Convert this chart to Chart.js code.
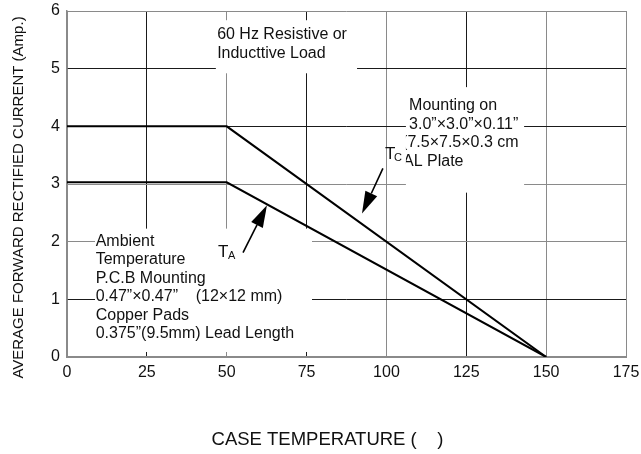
<!DOCTYPE html>
<html>
<head>
<meta charset="utf-8">
<script src="https://cdn.jsdelivr.net/npm/chart.js@4/dist/chart.umd.min.js"></script>
<style>
  html, body { margin: 0; padding: 0; background: #fff; }
  #wrap { width: 641px; height: 454px; }
</style>
</head>
<body>
<div id="wrap"><canvas id="myCanvas" width="641" height="454"></canvas></div>
<script>
// case temperature (deg C) and derating curves
const tempC = [0, 50, 150];
const currentTC = [4, 4, 0];
const currentTA = [3.03, 3.03, 0];
const xTicks = [0, 25, 50, 75, 100, 125, 150, 175];
const yTicks = [0, 1, 2, 3, 4, 5, 6];

const FONT = "'Liberation Sans', Arial, sans-serif";

// text blocks placed in data units, with white boxes behind them
const boxes = [
    { x0: 46.6, x1: 90.8, y0: 5.84, y1: 4.92 },
    { x0: 106.1, x1: 143.1, y0: 4.68, y1: 2.85, clip: true },
    { x0: 8.77, x1: 76.7, y0: 2.226, y1: 0.087 }
];
const notes = [
    { box: 0, x: 47.0, y: 5.513, dy: 0.322, lines: ['60 Hz Resistive or', 'Inducttive Load'] },
    { box: 1, x: 107.1, y: 4.278, dy: 0.322, lines: ['Mounting on', '3.0\u201d\u00d73.0\u201d\u00d70.11\u201d'] },
    { box: 1, x: 104.9, y: 3.635, dy: 0.322, lines: ['(7.5\u00d77.5\u00d70.3 cm'] },
    { box: 1, x: 105.2, y: 3.31, dy: 0.322, lines: ['AL Plate'] },
    { box: 2, x: 8.98, y: 1.93, dy: 0.32, lines: ['Ambient', 'Temperature', 'P.C.B Mounting',
        '0.47\u201d\u00d70.47\u201d    (12\u00d712 mm)', 'Copper Pads', '0.375\u201d(9.5mm) Lead Length'] }
];

function drawArrow(ctx, x1, y1, x2, y2) {
    var ang = Math.atan2(y2 - y1, x2 - x1);
    var len = 22, hw = 6.5;
    var bx = x2 - len * Math.cos(ang), by = y2 - len * Math.sin(ang);
    ctx.beginPath();
    ctx.moveTo(x1, y1);
    ctx.lineTo(bx, by);
    ctx.lineWidth = 1.6;
    ctx.strokeStyle = '#000';
    ctx.stroke();
    ctx.beginPath();
    ctx.moveTo(x2, y2);
    ctx.lineTo(bx + hw * Math.sin(ang), by - hw * Math.cos(ang));
    ctx.lineTo(bx - hw * Math.sin(ang), by + hw * Math.cos(ang));
    ctx.closePath();
    ctx.fillStyle = '#000';
    ctx.fill();
}

const notePlugin = {
    id: 'notes',
    beforeDatasetsDraw(chart) {
        const ctx = chart.ctx, sx = chart.scales.x, sy = chart.scales.y;
        ctx.save();
        boxes.forEach(function (b) {
            ctx.fillStyle = '#fff';
            var l = sx.getPixelForValue(b.x0), r = sx.getPixelForValue(b.x1);
            var t = sy.getPixelForValue(b.y0), bt = sy.getPixelForValue(b.y1);
            ctx.fillRect(l, t, r - l, bt - t);
        });
        ctx.font = '16px ' + FONT;
        ctx.fillStyle = '#111';
        ctx.textBaseline = 'alphabetic';
        ctx.textAlign = 'left';
        notes.forEach(function (n) {
            var b = boxes[n.box];
            ctx.save();
            if (b.clip) {
                var l = sx.getPixelForValue(b.x0), r = sx.getPixelForValue(b.x1);
                var t = sy.getPixelForValue(b.y0), bt = sy.getPixelForValue(b.y1);
                ctx.beginPath();
                ctx.rect(l, t, r - l, bt - t);
                ctx.clip();
            }
            n.lines.forEach(function (s, i) {
                ctx.fillText(s, sx.getPixelForValue(n.x), sy.getPixelForValue(n.y - i * n.dy));
            });
            ctx.restore();
        });
        ctx.restore();
    },
    afterDatasetsDraw(chart) {
        const ctx = chart.ctx, sx = chart.scales.x, sy = chart.scales.y;
        ctx.save();
        drawArrow(ctx, sx.getPixelForValue(98.9), sy.getPixelForValue(3.27),
                       sx.getPixelForValue(92.35), sy.getPixelForValue(2.49));
        drawArrow(ctx, sx.getPixelForValue(55.1), sy.getPixelForValue(1.81),
                       sx.getPixelForValue(62.6), sy.getPixelForValue(2.63));
        ctx.fillStyle = '#111';
        ctx.textAlign = 'left';
        ctx.textBaseline = 'alphabetic';
        ctx.font = '17px ' + FONT;
        ctx.fillText('T', sx.getPixelForValue(99.55), sy.getPixelForValue(3.426));
        ctx.fillText('T', sx.getPixelForValue(47.27), sy.getPixelForValue(1.739));
        ctx.font = '11px ' + FONT;
        ctx.fillText('C', sx.getPixelForValue(102.4), sy.getPixelForValue(3.40));
        ctx.fillText('A', sx.getPixelForValue(50.4), sy.getPixelForValue(1.696));
        ctx.restore();
    },
    afterDraw(chart) {
        const ctx = chart.ctx;
        ctx.save();
        ctx.fillStyle = '#111';
        ctx.textAlign = 'center';
        ctx.textBaseline = 'middle';
        ctx.font = '18.5px ' + FONT;
        ctx.fillText('CASE TEMPERATURE (    )', 327.5, 440);
        ctx.translate(19, 197.5);
        ctx.rotate(-Math.PI / 2);
        ctx.font = '15px ' + FONT;
        ctx.fillText('AVERAGE FORWARD RECTIFIED CURRENT (Amp.)', 0, 0);
        ctx.restore();
    }
};

function pts(ys) {
    return tempC.map(function (t, i) { return { x: t, y: ys[i] }; });
}

var ctx = document.getElementById('myCanvas').getContext('2d');
var myChart = new Chart(ctx, {
    type: 'scatter',
    data: {
        datasets: [
            { label: 'TC', data: pts(currentTC), showLine: true, borderColor: '#000', borderWidth: 2,
              pointRadius: 0, tension: 0 },
            { label: 'TA', data: pts(currentTA), showLine: true, borderColor: '#000', borderWidth: 2,
              pointRadius: 0, tension: 0 }
        ]
    },
    options: {
        responsive: false,
        animation: false,
        layout: { padding: { top: 11, right: 15, left: 0, bottom: 0 } },
        plugins: { legend: { display: false }, tooltip: { enabled: false } },
        scales: {
            x: {
                type: 'linear', min: 0, max: 175,
                afterBuildTicks: function (s) { s.ticks = xTicks.map(function (v) { return { value: v }; }); },
                afterFit: function (s) { s.height = 97; s.paddingLeft = 0; s.paddingRight = 0; },
                grid: {
                    drawTicks: false,
                    color: function (c) { return (c.index % 2 === 1 && c.index < 7) ? '#1a1a1a' : '#8a8a8a'; },
                    lineWidth: 1
                },
                border: { color: '#8a8a8a', width: 2 },
                ticks: { padding: 6, color: '#111', font: { family: FONT, size: 16 }, maxRotation: 0 }
            },
            y: {
                type: 'linear', min: 0, max: 6,
                afterBuildTicks: function (s) { s.ticks = yTicks.map(function (v) { return { value: v }; }); },
                afterFit: function (s) { s.width = 67; s.paddingTop = 0; s.paddingBottom = 0; },
                grid: {
                    drawTicks: false,
                    color: function (c) { var v = c.tick ? c.tick.value : 0; return (v === 5 || v === 4 || v === 1) ? '#1a1a1a' : '#8a8a8a'; },
                    lineWidth: 1
                },
                border: { color: '#8a8a8a', width: 1.5 },
                ticks: { padding: 7, color: '#111', font: { family: FONT, size: 16 } }
            }
        }
    },
    plugins: [notePlugin]
});
</script>
</body>
</html>
